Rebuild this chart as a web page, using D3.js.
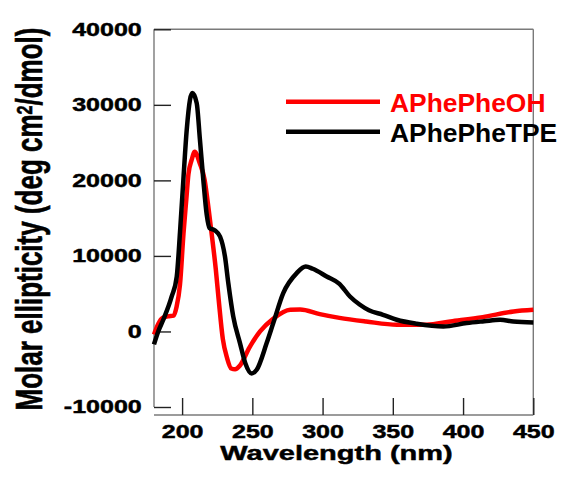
<!DOCTYPE html>
<html>
<head>
<meta charset="utf-8">
<script src="https://cdn.jsdelivr.net/npm/d3@7"></script>
<style>
  body { margin: 0; background: #fff; }
  svg text { font-family: "Liberation Sans", Arial, sans-serif; font-weight: bold; }
  .heavy { stroke: #000; stroke-width: 0.45px; }
</style>
</head>
<body>
<svg id="cd"></svg>
<script>
// CD spectra, values
var waveOH = [180, 183, 186, 190, 194, 196, 198.5, 201, 203, 204.5, 206.8, 209, 212.5, 216, 219, 221, 224, 226, 229, 232, 235, 237.7, 241.2, 248, 255.5, 265, 277, 284, 298, 312, 331, 353, 374, 391, 414, 436, 450];
var ellipOH = [-400, 1000, 1800, 2000, 2100, 3200, 6200, 13000, 17500, 20800, 22700, 23800, 22300, 20100, 16000, 13000, 8200, 4300, -1000, -3500, -4900, -5000, -4500, -2100, 0, 1700, 2870, 2900, 2300, 1800, 1320, 890, 890, 1320, 1900, 2650, 2870];

var waveTPE = [180, 183, 186.6, 192.6, 196.2, 198.5, 200.9, 203.3, 205.6, 207.3, 210.4, 212.7, 215.1, 217.5, 219.5, 223.4, 227, 230.5, 232.9, 236.4, 241.2, 245, 249.5, 253.1, 260.2, 264.9, 272, 281.6, 288, 293, 302.9, 312, 319.5, 326.6, 333, 343, 352.8, 367, 386, 402.6, 415, 426.3, 435.8, 450];
var ellipTPE = [-1700, 0, 1550, 4630, 7280, 13100, 20080, 26700, 30670, 31560, 30230, 25370, 20080, 15500, 13700, 13370, 12570, 9930, 6400, 1990, -1540, -4200, -5550, -5070, -1540, 1110, 5080, 7730, 8600, 8300, 7280, 6300, 4630, 3530, 2800, 2210, 1550, 1020, 660, 1110, 1350, 1550, 1320, 1190];

var seriesNames = ["APhePheOH", "APhePheTPE"];
var seriesColors = ["#ff0000", "#000000"];
var xTicks = [200, 250, 300, 350, 400, 450];
var yTicks = [-10000, 0, 10000, 20000, 30000, 40000];

var width = 562, height = 479;
var plotLeft = 154, plotRight = 533.3, plotTop = 29.3, plotBottom = 407, xAxisY = 415;
var stretch = 1.39;  // axis text in the picture is wider than normal

var svg = d3.select("#cd").attr("width", width).attr("height", height);

var x = d3.scaleLinear().domain([180, 450]).range([plotLeft, plotRight]);
var y = d3.scaleLinear().domain([-10000, 40000]).range([plotBottom, plotTop]);

// frame (gray), offset x axis like the original
var frame = svg.append("g").attr("stroke", "#7a7a7a").attr("stroke-width", 1.4);
frame.append("line").attr("x1", plotLeft).attr("x2", plotLeft).attr("y1", plotTop).attr("y2", plotBottom);
frame.append("line").attr("x1", plotLeft).attr("x2", plotRight).attr("y1", plotTop).attr("y2", plotTop);
frame.append("line").attr("x1", plotRight).attr("x2", plotRight).attr("y1", plotTop).attr("y2", xAxisY);
frame.append("line").attr("x1", plotLeft).attr("x2", plotRight).attr("y1", xAxisY).attr("y2", xAxisY);

// y axis, ticks pointing in
var yAxis = svg.append("g")
    .attr("transform", "translate(" + plotLeft + ",0)")
    .call(d3.axisLeft(y).tickValues(yTicks).tickSize(-17).tickFormat(function(d){ return String(d); }));
yAxis.select(".domain").remove();
yAxis.selectAll(".tick line").attr("stroke", "#222").attr("stroke-width", 1.4);
yAxis.selectAll(".tick text")
    .attr("class", "heavy")
    .attr("x", -12.3 / stretch)
    .attr("transform", "scale(" + stretch + ",1)")
    .attr("font-size", 18)
    .attr("fill", "#000");

// x axis
var xAxis = svg.append("g")
    .attr("transform", "translate(0," + xAxisY + ")")
    .call(d3.axisBottom(x).tickValues(xTicks).tickSize(-17).tickPadding(10));
xAxis.select(".domain").remove();
xAxis.selectAll(".tick line").attr("stroke", "#222").attr("stroke-width", 1.4);
xAxis.selectAll(".tick text")
    .attr("class", "heavy")
    .attr("transform", "scale(" + stretch + ",1)")
    .attr("font-size", 18)
    .attr("fill", "#000");

// curves
var line = d3.line()
    .x(function(d){ return x(d[0]); })
    .y(function(d){ return y(d[1]); })
    .curve(d3.curveMonotoneX);

var series = [
    d3.zip(waveOH, ellipOH),
    d3.zip(waveTPE, ellipTPE)
];

svg.append("g").selectAll("path.curve")
    .data(series)
    .enter()
    .append("path")
    .attr("class", "curve")
    .attr("d", line)
    .attr("fill", "none")
    .attr("stroke", function(d, i){ return seriesColors[i]; })
    .attr("stroke-width", 4.5)
    .attr("stroke-linejoin", "round");

// legend
var legend = svg.append("g").selectAll("g")
    .data(seriesNames)
    .enter()
    .append("g")
    .attr("transform", function(d, i){ return "translate(286," + (101.7 + i * 30) + ")"; });
legend.append("line")
    .attr("x1", 0).attr("x2", 94)
    .attr("stroke", function(d, i){ return seriesColors[i]; })
    .attr("stroke-width", 4.5);
legend.append("text")
    .attr("x", 104)
    .attr("y", 10.2)
    .attr("font-size", 26.4)
    .attr("fill", function(d, i){ return seriesColors[i]; })
    .text(function(d){ return d; });

// axis titles
svg.append("text")
    .attr("class", "heavy")
    .attr("transform", "translate(336.5,460) scale(1.38,1)")
    .attr("text-anchor", "middle")
    .attr("font-size", 21)
    .text("Wavelength (nm)");

var yt = svg.append("text")
    .attr("class", "heavy")
    .attr("transform", "translate(41.7,219) scale(" + stretch + ",1) rotate(-90)")
    .attr("text-anchor", "middle")
    .attr("font-size", 26);
yt.append("tspan").text("Molar ellipticity (deg cm");
yt.append("tspan").attr("dy", "-0.45em").attr("font-size", "0.62em").text("2");
yt.append("tspan").attr("dy", "0.28em").text("/dmol)");
</script>
</body>
</html>
